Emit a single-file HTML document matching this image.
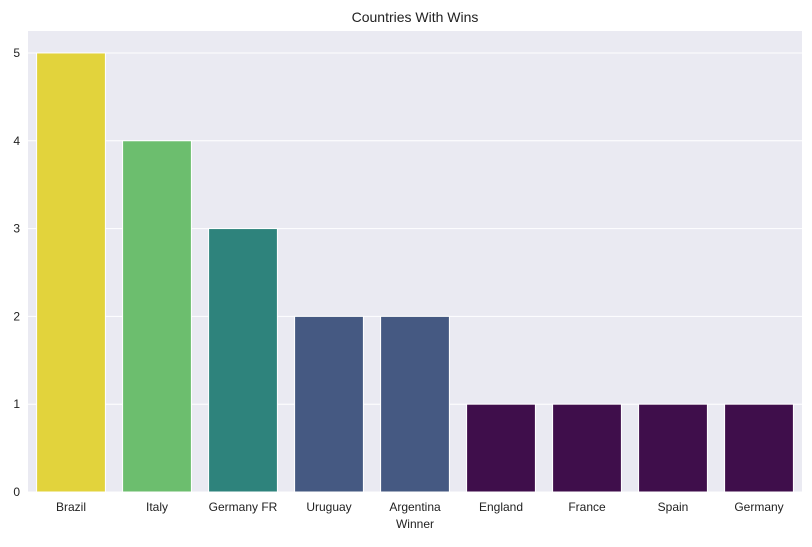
<!DOCTYPE html>
<html><head><meta charset="utf-8"><style>
body{margin:0;background:#fff;font-family:"Liberation Sans",sans-serif;}
</style></head><body>
<svg id="chart" width="812" height="542" xmlns="http://www.w3.org/2000/svg" font-family="Liberation Sans, sans-serif">
<rect width="812" height="542" fill="#fff"/>
<text x="415" y="22" text-anchor="middle" font-size="14" fill="#222">Countries With Wins</text>
<rect x="28" y="31" width="774" height="461" fill="#eaeaf2"/>
<g id="grid"></g><g id="bars"></g><g id="yt"></g><g id="xt"></g>
<text x="415" y="528" text-anchor="middle" font-size="12" fill="#222">Winner</text>
</svg>
<script>
const categories=["Brazil","Italy","Germany FR","Uruguay","Argentina","England","France","Spain","Germany"];
const wins=[5,4,3,2,2,1,1,1,1];
const colors=["#e2d33c","#6cbe6e","#2e837c","#455982","#455982","#3f0e4b","#3f0e4b","#3f0e4b","#3f0e4b"];
const yTicks=[0,1,2,3,4,5];
const NS="http://www.w3.org/2000/svg";
const x0=28,w=774,y0=492,ymax=5.25,h=461;
const band=w/categories.length;
const ys=v=>y0-v/ymax*h;
function mk(t,a,p){const e=document.createElementNS(NS,t);for(const k in a)e.setAttribute(k,a[k]);document.getElementById(p).appendChild(e);return e;}
yTicks.forEach(v=>{
const l=mk("line",{x1:x0,x2:x0+w,y1:ys(v),y2:ys(v),stroke:"#fff","stroke-width":1},"grid");


const t=mk("text",{x:x0-8,y:ys(v)+4,"text-anchor":"end","font-size":12,fill:"#222"},"yt");
t.textContent=v;


});
categories.forEach((c,i)=>{
const cx=x0+band*(i+0.5),bw=band*0.8;
const r=mk("rect",{x:cx-bw/2,y:ys(wins[i]),width:bw,height:y0-ys(wins[i]),fill:colors[i],stroke:"#fff","stroke-width":1},"bars");


const t=mk("text",{x:cx,y:511,"text-anchor":"middle","font-size":12,fill:"#222"},"xt");
t.textContent=c;


});
</script>
</body></html>
